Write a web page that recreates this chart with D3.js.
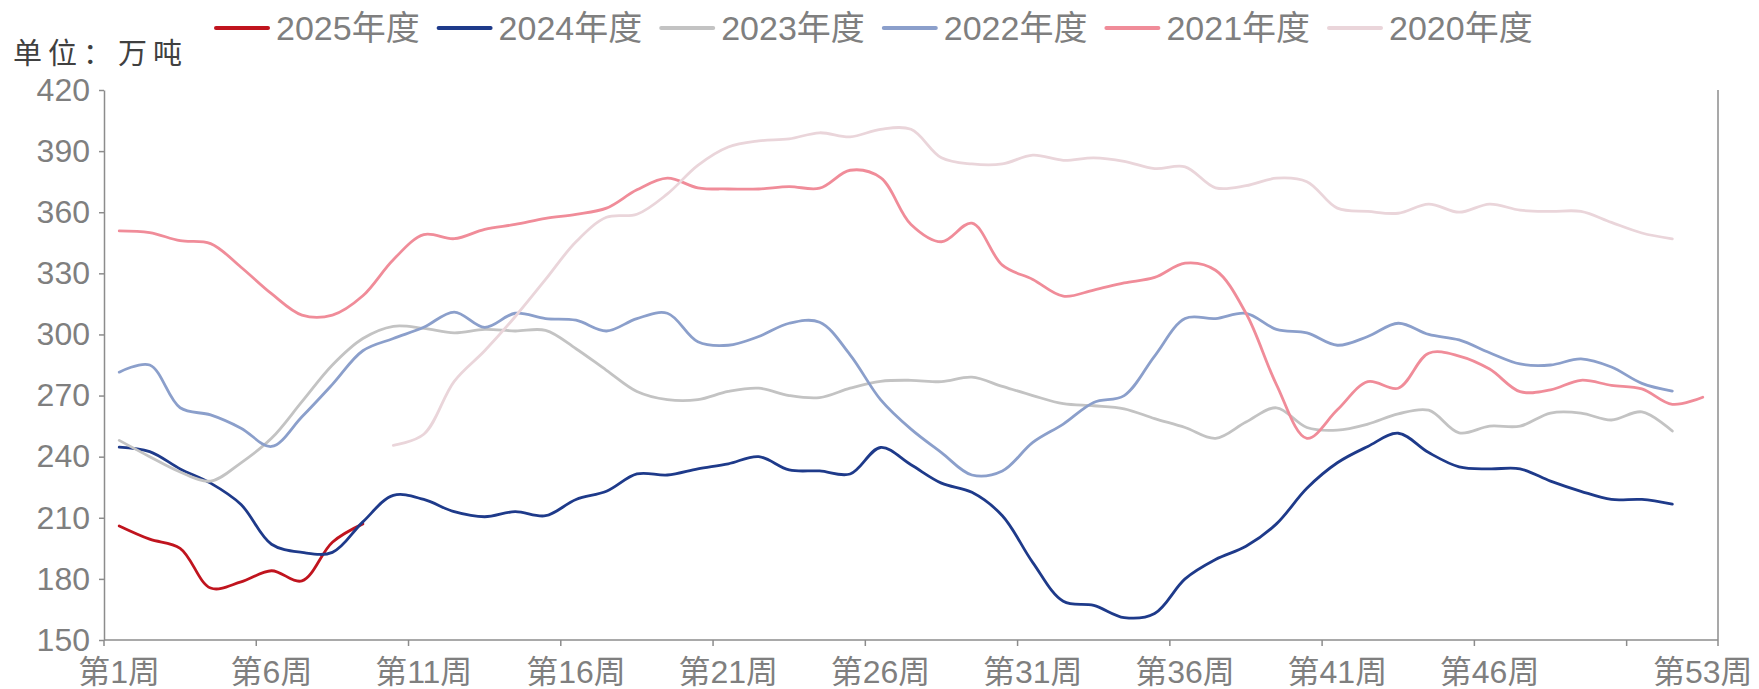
<!DOCTYPE html>
<html lang="zh">
<head>
<meta charset="utf-8">
<style>
  html, body { margin: 0; padding: 0; background: #fff; }
  svg { display: block; }
  .lbl { font-family: "Liberation Sans", Arial, "Noto Sans CJK SC", sans-serif; fill: #7f7f7f; }
  .axis path, .axis line { stroke: #8c8c8c; stroke-width: 1.5; }
  .series { fill: none; stroke-width: 2.8; stroke-linejoin: round; stroke-linecap: round; }
</style>
</head>
<body>
<svg width="1759" height="689"></svg>
<script src="https://d3js.org/d3.v7.min.js"></script>
<script>
// categories: 第1周 .. 第53周
var weeks = d3.range(1, 54).map(function (i) { return "第" + i + "周"; });
var labelWeeks = [1, 6, 11, 16, 21, 26, 31, 36, 41, 46, 53];
var tickBounds = [0, 5, 10, 15, 20, 25, 30, 35, 40, 45, 50, 53];
var yTicks = [150, 180, 210, 240, 270, 300, 330, 360, 390, 420];

var names = ["2025年度", "2024年度", "2023年度", "2022年度", "2021年度", "2020年度"];
var firstWeek = [1, 1, 1, 1, 1, 10];

// 单位：万吨
var v2025 = [206, 199.5, 195, 175.5, 178.5, 184, 179, 198, 207];
var v2024 = [244.7, 242.5, 234, 227, 216.5, 197, 193, 193, 208, 221,
             219, 213, 210.5, 213, 211, 219, 223, 231.5, 231, 234,
             236.5, 240, 233.5, 233, 231.5, 244.5, 236, 227, 222.5, 211,
             188, 169, 167, 161, 163, 180, 189.5, 196, 207, 224.5,
             237, 245, 251.5, 242, 235, 234, 234, 228, 223, 219,
             219, 216.7];
var v2023 = [248, 240, 232.5, 228, 237, 249, 267, 285, 298, 304,
             303, 300.8, 302.5, 301.7, 302, 293, 282.4, 272, 268, 268,
             272, 273.6, 270, 269, 273.6, 277, 277.5, 276.8, 279, 274.5,
             270, 266, 265, 263.5, 258.7, 254.3, 249, 257, 264, 254.3,
             253, 256, 261, 262.8, 251.7, 255, 255, 261.4, 261.4, 258,
             262, 252.6];
var v2022 = [281.5, 285, 264, 260.5, 254, 245, 259.6, 275.5, 292, 298,
             303.5, 311, 303.5, 310.4, 307.8, 307, 301.7, 307.8, 310.4, 296.4,
             294.7, 299, 305.5, 306, 290, 268, 253.5, 242, 231, 233,
             247, 256, 266.6, 270, 289.4, 307.8, 307.8, 310.4, 302.5, 300.8,
             294.7, 299, 305.5, 300, 297.3, 291, 285.5, 285, 288, 284,
             276, 272.2];
var v2021 = [350.8, 350, 346, 344.6, 333, 320, 309.5, 309.5, 319, 336.7,
             349, 347, 351.6, 354, 357, 359, 362, 371, 376.7, 372,
             371.4, 371.4, 372.6, 371.8, 380.6, 377, 354, 345.5, 354.6, 334,
             327, 318.8, 321.8, 325.3, 328, 335, 331.5, 310.4, 275.4, 249,
             263, 276.8, 273.6, 290.8, 289.4, 283, 271.9, 272.8, 277.5, 275,
             273.3, 265.7, 269.2];
var v2020 = [245.6, 251, 277, 292, 308.7, 327, 345.5, 357.5, 359, 369,
             383, 392, 395, 396, 399, 397, 400.7, 400.7, 386.7, 383.7,
             383.7, 388, 385.5, 386.7, 385, 381.4, 382.3, 372, 373, 376.7,
             375, 362, 360.4, 359.5, 364, 360, 364, 361, 360.4, 360.4,
             355, 349.8, 346.9];

var values = [v2025, v2024, v2023, v2022, v2021, v2020];
var colors = ["#c0141e", "#1e3a8a", "#c3c3c3", "#8b9fcb", "#f08c99", "#ead5da"];

var svg = d3.select("svg");
var plotLeft = 104, plotRight = 1718, plotTop = 90, plotBottom = 640;

var x = d3.scaleBand().domain(weeks).range([plotLeft, plotRight]).padding(0);
var bw = x.bandwidth();
var y = d3.scaleLinear().domain([150, 420]).range([plotBottom, plotTop]);

function bound(k) { return k >= weeks.length ? plotRight : x(weeks[k]); }
function cx(w) { return x(weeks[w - 1]) + bw / 2; }

// y axis
var yAxis = svg.append("g")
    .attr("class", "axis")
    .attr("transform", "translate(" + plotLeft + ",0)")
    .call(d3.axisLeft(y).tickValues(yTicks).tickSize(5).tickSizeOuter(0).tickPadding(9));
yAxis.selectAll("text").attr("class", "lbl").style("font-size", "32px");

// right border
svg.append("line")
    .attr("x1", plotRight).attr("x2", plotRight)
    .attr("y1", plotTop).attr("y2", plotBottom)
    .attr("stroke", "#8c8c8c").attr("stroke-width", 1.5);

// x axis
var xg = svg.append("g").attr("class", "axis");
xg.append("line")
    .attr("x1", plotLeft).attr("x2", plotRight)
    .attr("y1", plotBottom).attr("y2", plotBottom);
xg.selectAll(".xt").data(tickBounds).enter().append("line")
    .attr("x1", bound).attr("x2", bound)
    .attr("y1", plotBottom).attr("y2", plotBottom + 6);
xg.selectAll(".xl").data(labelWeeks).enter().append("text")
    .attr("class", "lbl")
    .attr("x", cx)
    .attr("y", 672)
    .attr("text-anchor", "middle")
    .attr("dominant-baseline", "central")
    .style("font-size", "32px")
    .text(function (w) { return weeks[w - 1]; });

// lines
var line = d3.line()
    .x(function (d) { return cx(d.w); })
    .y(function (d) { return y(d.v); })
    .curve(d3.curveCatmullRom.alpha(0.5));

values.forEach(function (arr, i) {
    var pts = arr.map(function (v, j) { return { w: firstWeek[i] + j, v: v }; });
    svg.append("path")
        .datum(pts)
        .attr("class", "series")
        .attr("stroke", colors[i])
        .attr("d", line);
});

// legend
var leg = svg.append("g").selectAll("g").data(names).enter().append("g")
    .attr("transform", function (d, i) { return "translate(" + (216 + i * 222.6) + ",28)"; });
leg.append("line")
    .attr("x1", 0).attr("x2", 52)
    .attr("stroke", function (d, i) { return colors[i]; })
    .attr("stroke-width", 4)
    .attr("stroke-linecap", "round");
leg.append("text")
    .attr("class", "lbl")
    .attr("x", 60)
    .attr("dominant-baseline", "central")
    .style("font-size", "34px")
    .text(function (d) { return d; });

// unit
svg.append("text")
    .attr("x", 13).attr("y", 51)
    .attr("dominant-baseline", "central")
    .style("font-family", "'Noto Sans CJK SC', sans-serif")
    .style("font-size", "29px")
    .style("letter-spacing", "6px")
    .attr("fill", "#404040")
    .text("单位：万吨");
</script>
</body>
</html>
